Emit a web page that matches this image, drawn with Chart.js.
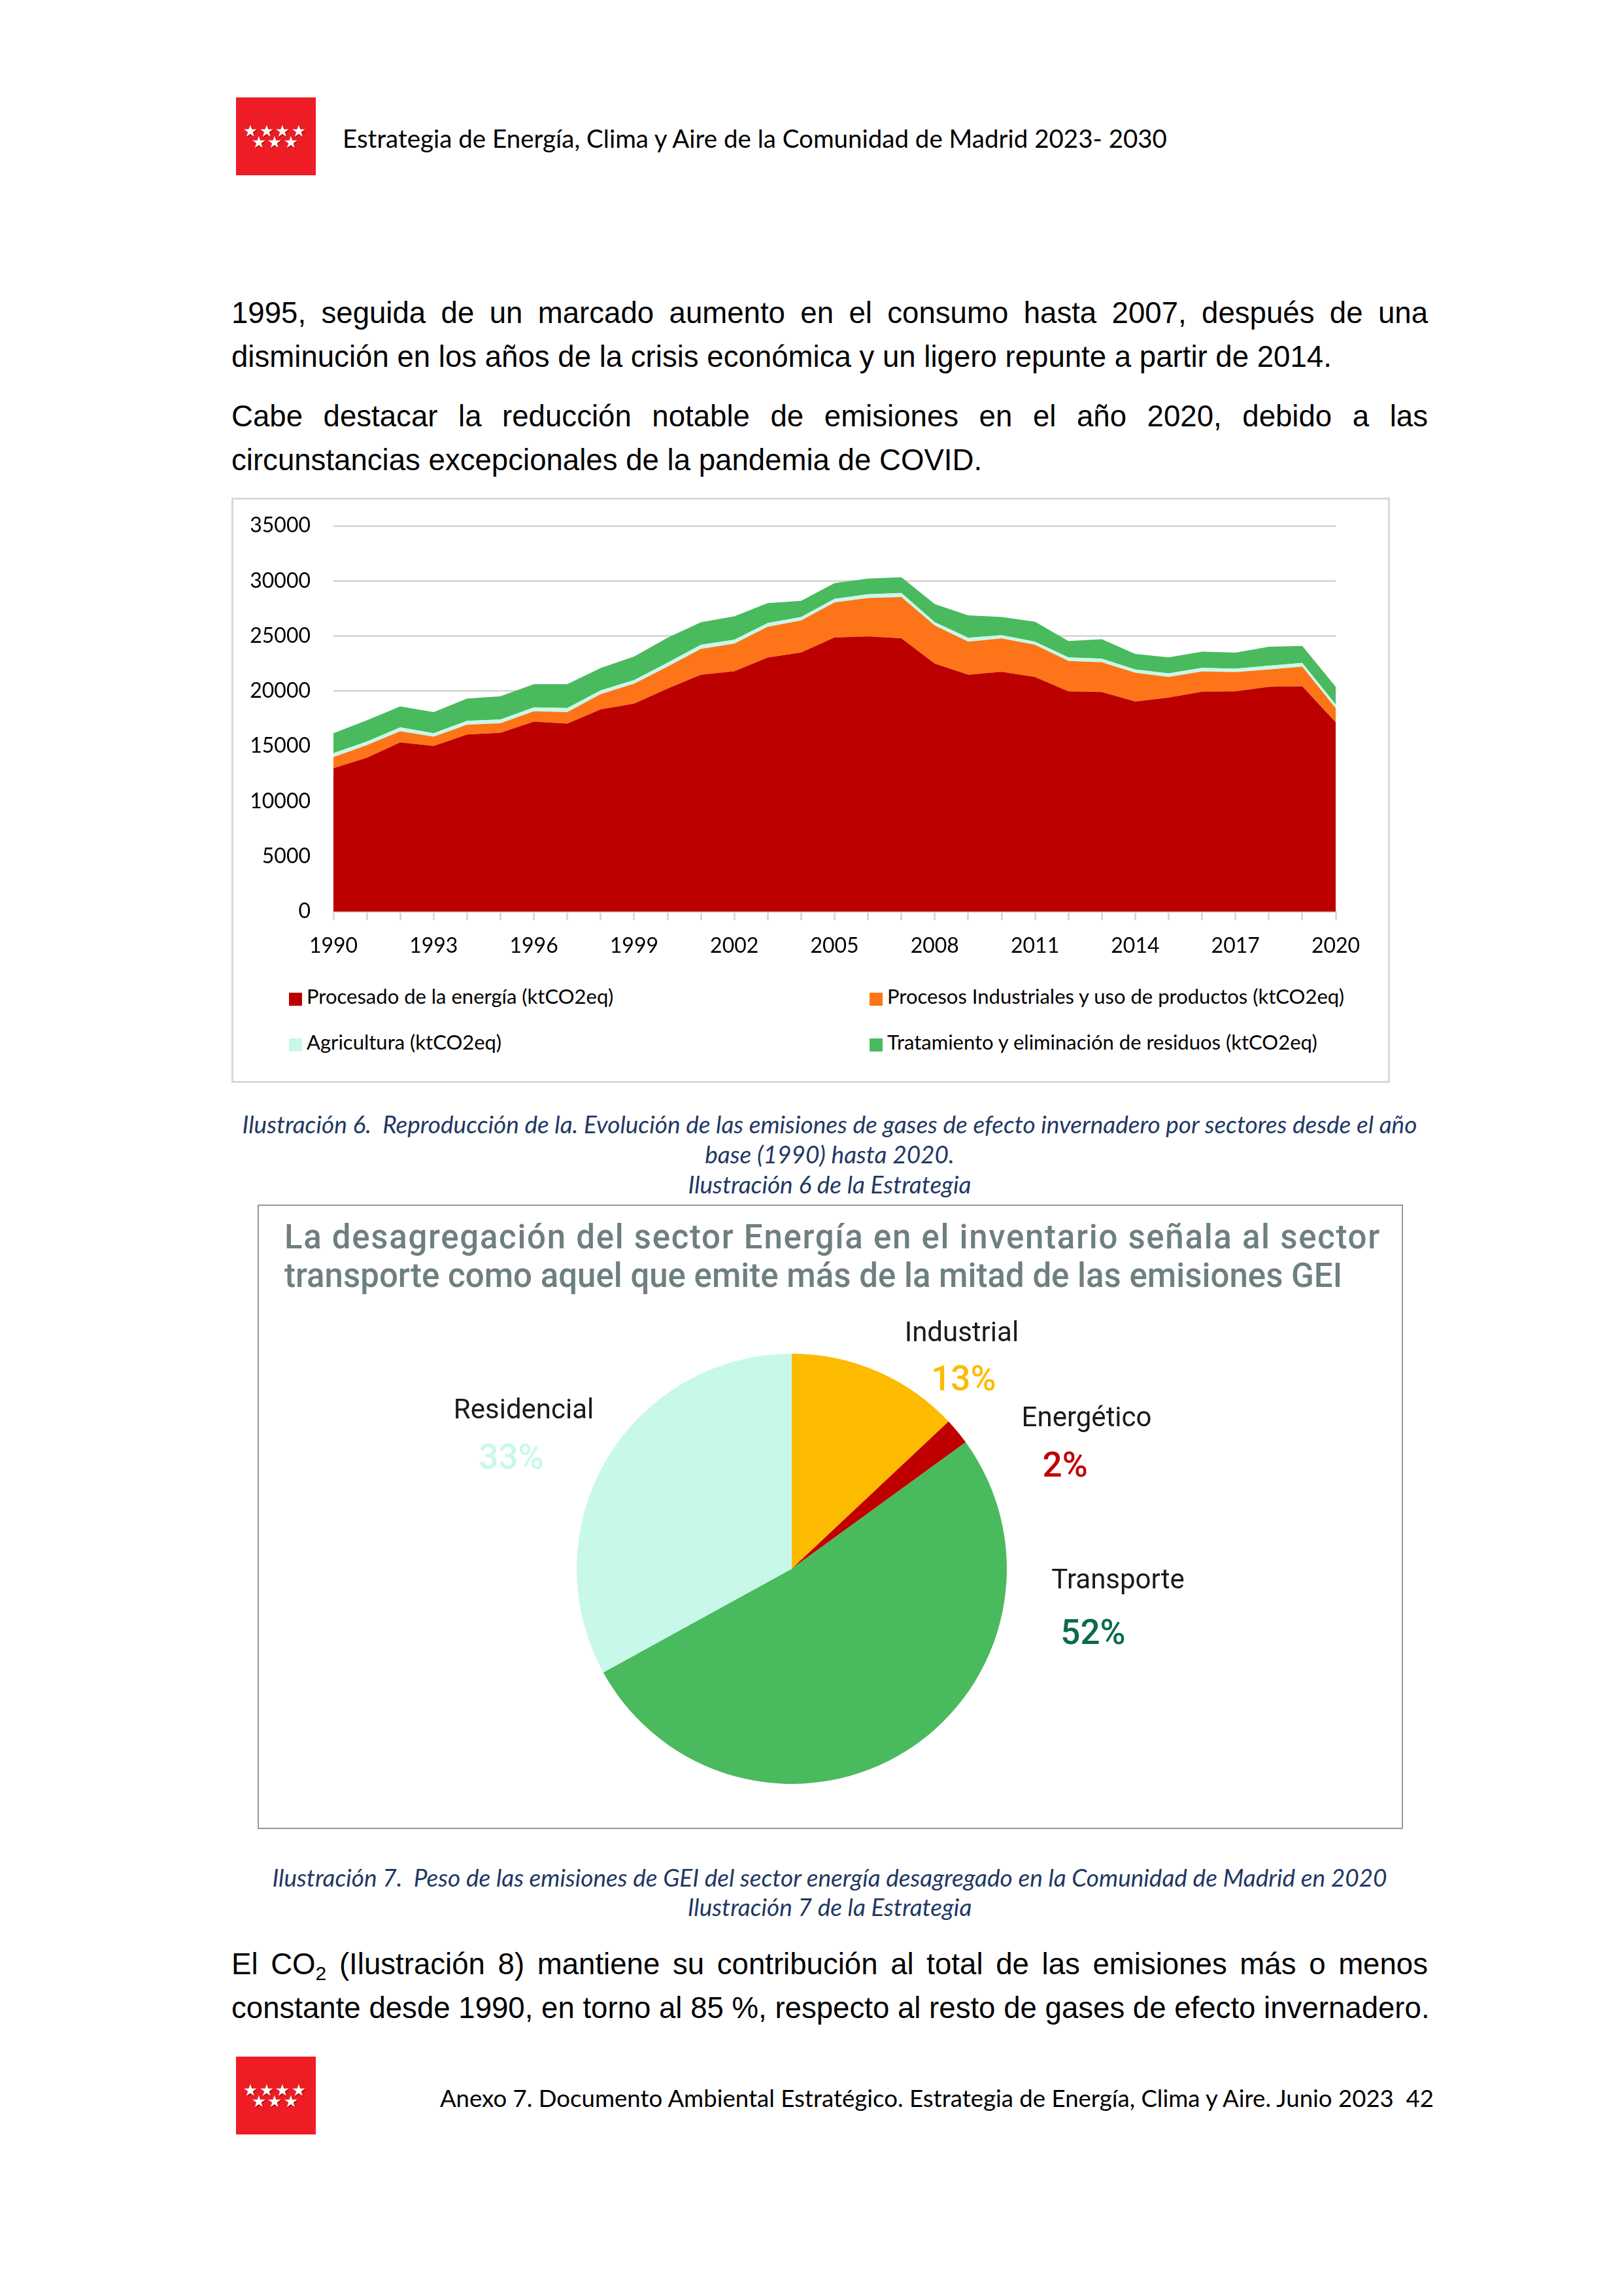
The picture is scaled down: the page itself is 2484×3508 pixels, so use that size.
<!DOCTYPE html>
<html lang="es">
<head>
<meta charset="utf-8">
<title>Estrategia de Energía, Clima y Aire - pág. 42</title>
<script src="https://cdn.jsdelivr.net/npm/chart.js@4.4.1/dist/chart.umd.min.js"></script>
<style>
  body { margin: 0; width: 2484px; height: 3508px; position: relative; background: #fff; overflow: hidden; }
  .t { position: absolute; white-space: pre; line-height: 1; margin: 0; }
  .logo { position: absolute; left: 361px; width: 122px; height: 119px; background: #ee1c25; }
  .star { position: absolute; color: #fff; font-family: "DejaVu Sans"; font-size: 25px; line-height: 1;
          text-shadow: 1px 1px 1px #7a0000; transform: translate(-50%, -50%); }
  .txt { font-family: "Liberation Sans", Arial, sans-serif; font-size: 45.6px; color: #000; left: 354px; width: 1830px; }
  .just { text-align: justify; text-align-last: justify; white-space: normal; }
  .cap { font-family: Lato, sans-serif; font-style: italic; font-size: 37px; color: #1f3864; left: 354px; width: 1830px; text-align: center; }
  .lato { font-family: Lato, sans-serif; color: #000; }
  #box1 { position: absolute; left: 354px; top: 761px; width: 1766px; height: 889px; border: 3px solid #d9d9d9; }
  #box2 { position: absolute; left: 394px; top: 1842px; width: 1748px; height: 951px; border: 2px solid #8d9a9a; }
  .pietitle { font-family: Roboto, sans-serif; font-weight: 500; font-size: 51px; color: #6e7f80; left: 435px; }
  .sw { position: absolute; width: 20px; height: 20px; }
  .lg { position: absolute; font-family: Lato, sans-serif; font-size: 31px; line-height: 1; color: #000; white-space: pre; }
</style>
</head>
<body>

<!-- cabecera -->
<div class="logo" id="logoTop" style="top:149px"></div>
<div class="t lato" style="left:524px; top:192px; font-size:38.5px;">Estrategia de Energía, Clima y Aire de la Comunidad de Madrid 2023- 2030</div>

<!-- texto -->
<div class="t txt just" style="top:456px;">1995, seguida de un marcado aumento en el consumo hasta 2007, después de una</div>
<div class="t txt" style="top:523px;">disminución en los años de la crisis económica y un ligero repunte a partir de 2014.</div>
<div class="t txt just" style="top:614px;">Cabe destacar la reducción notable de emisiones en el año 2020, debido a las</div>
<div class="t txt" style="top:681px;">circunstancias excepcionales de la pandemia de COVID.</div>

<!-- grafico 1 -->
<div id="box1"></div>
<canvas id="areaChart" width="1772" height="720" style="position:absolute; left:354px; top:761px;"></canvas>
<div id="legend1"></div>

<div class="t cap" style="top:1700px;">Ilustración 6.  Reproducción de la. Evolución de las emisiones de gases de efecto invernadero por sectores desde el año</div>
<div class="t cap" style="top:1746px;">base (1990) hasta 2020.</div>
<div class="t cap" style="top:1792px;">Ilustración 6 de la Estrategia</div>

<!-- grafico 2 -->
<div id="box2"></div>
<div class="t pietitle" style="top:1866px; letter-spacing:1.7px;">La desagregación del sector Energía en el inventario señala al sector</div>
<div class="t pietitle" style="top:1925px;">transporte como aquel que emite más de la mitad de las emisiones GEI</div>
<canvas id="pieChart" width="1622" height="798" style="position:absolute; left:400px; top:2000px;"></canvas>

<div class="t cap" style="top:2852px;">Ilustración 7.  Peso de las emisiones de GEI del sector energía desagregado en la Comunidad de Madrid en 2020</div>
<div class="t cap" style="top:2897px;">Ilustración 7 de la Estrategia</div>

<div class="t txt just" style="top:2981px;">El CO<sub style="font-size:30px; vertical-align:-9px; line-height:0;">2</sub> (Ilustración 8) mantiene su contribución al total de las emisiones más o menos</div>
<div class="t txt" style="top:3048px;">constante desde 1990, en torno al 85 %, respecto al resto de gases de efecto invernadero.</div>

<!-- pie de pagina -->
<div class="logo" id="logoBottom" style="top:3145px"></div>
<div class="t lato" style="right:291px; top:3190px; font-size:36.6px;">Anexo 7. Documento Ambiental Estratégico. Estrategia de Energía, Clima y Aire. Junio 2023  42</div>

<script>
// ---- datos grafico 1 (ktCO2eq) ----
const years = [1990, 1991, 1992, 1993, 1994, 1995, 1996, 1997, 1998, 1999, 2000,
               2001, 2002, 2003, 2004, 2005, 2006, 2007, 2008, 2009, 2010,
               2011, 2012, 2013, 2014, 2015, 2016, 2017, 2018, 2019, 2020];
const procesadoEnergia = [13010, 13950, 15350, 15030, 16060, 16220, 17230, 17060, 18350, 18870, 20230,
                          21490, 21800, 23040, 23510, 24870, 24960, 24800, 22500, 21490, 21750,
                          21280, 19970, 19920, 19060, 19410, 19950, 19970, 20390, 20440, 17180];
const procesosIndustriales = [1010, 1150, 1010, 845, 890, 870, 940, 1030, 1380, 1805, 1990,
                              2345, 2510, 2790, 2905, 3170, 3490, 3730, 3450, 3000, 3025,
                              2930, 2765, 2700, 2600, 1875, 1830, 1760, 1570, 1780, 1265];
const agricultura = [350, 330, 350, 305, 350, 330, 350, 375, 330, 330, 350,
                     375, 350, 350, 305, 330, 330, 375, 305, 350, 305,
                     280, 330, 330, 305, 330, 330, 305, 350, 330, 350];
const residuos = [1805, 1920, 1900, 1920, 2020, 2110, 2110, 2160, 2040, 2130, 2270,
                  2040, 2130, 1805, 1475, 1430, 1430, 1430, 1640, 2040, 1640,
                  1805, 1475, 1760, 1405, 1450, 1475, 1450, 1710, 1550, 1595];
const yTicks = [0, 5000, 10000, 15000, 20000, 25000, 30000, 35000];
const seriesNames = ['Procesado de la energía (ktCO2eq)', 'Procesos Industriales y uso de productos (ktCO2eq)',
                     'Agricultura (ktCO2eq)', 'Tratamiento y eliminación de residuos (ktCO2eq)'];
const seriesColors = ['#bc0000', '#fd7518', '#c8f8ea', '#4aba5e'];

// ---- datos grafico 2 (%) ----
const sectores = ['Industrial', 'Energético', 'Transporte', 'Residencial'];
const pesos = [13, 2, 52, 33];
const sliceColors = ['#fdbb00', '#c00000', '#4aba5e', '#c8f8ea'];
const pctColors = ['#fdbb00', '#c00000', '#0b6b4a', '#c8f8ea'];

// logos
function drawLogo(id) {
  const el = document.getElementById(id);
  const pts = [[22, 51], [47, 51], [71, 51], [96, 51], [35, 68], [59, 68], [84, 68]];
  pts.forEach(p => {
    const s = document.createElement('span');
    s.className = 'star';
    s.textContent = '★';
    s.style.left = p[0] + 'px';
    s.style.top = p[1] + 'px';
    el.appendChild(s);
  });
}
drawLogo('logoTop');
drawLogo('logoBottom');

// grafico de areas apiladas
const fills = ['origin', '-1', '-1', '-1'];
const areaData = [procesadoEnergia, procesosIndustriales, agricultura, residuos];
const areaChart = new Chart(document.getElementById('areaChart'), {
  type: 'line',
  data: {
    labels: years,
    datasets: areaData.map((d, i) => ({
      label: seriesNames[i],
      data: d,
      fill: fills[i],
      backgroundColor: seriesColors[i],
      borderColor: seriesColors[i],
      borderWidth: 0,
      pointRadius: 0,
      tension: 0
    }))
  },
  options: {
    responsive: false,
    animation: false,
    layout: { padding: { left: 0, right: 83, top: 43, bottom: 0 } },
    plugins: { legend: { display: false }, tooltip: { enabled: false } },
    scales: {
      x: {
        offset: false,
        grid: { offset: false, drawOnChartArea: false, color: '#d9d9d9', lineWidth: 3, tickLength: 13 },
        border: { color: '#d9d9d9', width: 3 },
        ticks: {
          autoSkip: false, maxRotation: 0, padding: 20, color: '#000',
          font: { family: 'Lato', size: 32 },
          callback: function (v, i) { return (years[i] - 1990) % 3 === 0 ? String(years[i]) : ''; }
        },
        afterFit: s => { s.height = 87; }
      },
      y: {
        stacked: true,
        min: 0, max: 35000,
        afterBuildTicks: s => { s.ticks = yTicks.map(v => ({ value: v })); },
        grid: { color: '#d9d9d9', lineWidth: 3, drawTicks: true, tickLength: 30, tickColor: 'rgba(0,0,0,0)' },
        border: { display: false },
        ticks: { padding: 5, color: '#000', font: { family: 'Lato', size: 32 }, callback: v => String(v) },
        afterFit: s => { s.width = 156; }
      }
    }
  }
});

// leyenda en dos columnas
const legendPos = [[442, 1518], [1330, 1518], [442, 1588], [1330, 1588]];
const legend1 = document.getElementById('legend1');
areaChart.data.datasets.forEach((ds, i) => {
  const sw = document.createElement('div');
  sw.className = 'sw';
  sw.style.left = legendPos[i][0] + 'px';
  sw.style.top = legendPos[i][1] + 'px';
  sw.style.background = ds.backgroundColor;
  legend1.appendChild(sw);
  const tx = document.createElement('div');
  tx.className = 'lg';
  tx.textContent = ds.label;
  tx.style.left = (legendPos[i][0] + 27) + 'px';
  tx.style.top = (legendPos[i][1] - 10) + 'px';
  legend1.appendChild(tx);
});

// grafico de tarta
const labelAnchors = [
  { name: [0.790, -1.103], pct: [0.799, -0.888] },
  { name: [1.371, -0.708], pct: [1.271, -0.486] },
  { name: [1.517, 0.046], pct: [1.401, 0.292] },
  { name: [-1.246, -0.745], pct: [-1.304, -0.523] }
];
const pieLabels = {
  id: 'pieLabels',
  afterDatasetsDraw(chart) {
    const ctx = chart.ctx;
    chart.getDatasetMeta(0).data.forEach((arc, i) => {
      const r = arc.outerRadius;
      const a = labelAnchors[i];
      ctx.save();
      ctx.textAlign = 'center';
      ctx.textBaseline = 'alphabetic';
      ctx.font = '42px Roboto';
      ctx.fillStyle = '#1a1a1a';
      ctx.fillText(sectores[i], arc.x + a.name[0] * r, arc.y + a.name[1] * r + 15);
      ctx.font = '500 53px Roboto';
      ctx.fillStyle = pctColors[i];
      ctx.fillText(pesos[i] + '%', arc.x + a.pct[0] * r, arc.y + a.pct[1] * r + 19);
      ctx.restore();
    });
  }
};
new Chart(document.getElementById('pieChart'), {
  type: 'pie',
  data: {
    labels: sectores,
    datasets: [{ data: pesos, backgroundColor: sliceColors, borderWidth: 0 }]
  },
  options: {
    responsive: false,
    animation: false,
    layout: { padding: { left: 482, right: 482, top: 70, bottom: 70 } },
    plugins: { legend: { display: false }, tooltip: { enabled: false } }
  },
  plugins: [pieLabels]
});
</script>
</body>
</html>
